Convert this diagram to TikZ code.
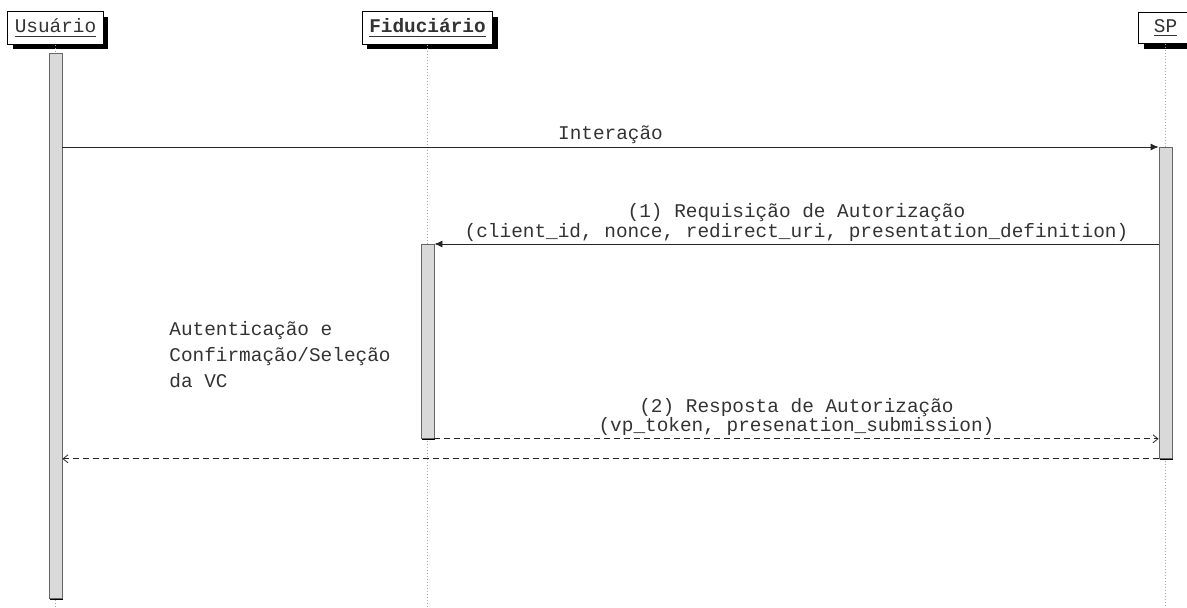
\documentclass[tikz,border=0pt]{standalone}
\usepackage{fontspec}
\setmainfont{Liberation Mono}
\usetikzlibrary{arrows.meta,shadows}

\begin{document}
\begin{tikzpicture}[x=0.5pt,y=-0.5pt,font=\fontsize{9.7}{9.6}\selectfont,text=black!80,
    actor/.style={draw,fill=white,inner sep=3.5pt,minimum height=15pt,
      drop shadow={shadow xshift=2.5pt,shadow yshift=-2.5pt,opacity=1,fill=black}},
    life/.style={draw=gray!70,densely dotted,line width=0.5pt},
    act/.style={draw=black!60,fill=gray!30,minimum width=6.5pt,inner sep=0pt,anchor=north,
      drop shadow={shadow xshift=0.6pt,shadow yshift=-0.6pt,opacity=1,fill=black}},
    call/.style={draw=black!85,-{Latex[length=4pt,width=3.5pt]}},
    ret/.style={draw=black!85,densely dashed,-{Straight Barb[length=2.5pt,width=4pt]}},
    lbl/.style={midway,above,inner sep=1.2pt,align=center}]
    \useasboundingbox (0,0) rectangle (1187,608);

    % participants
    \node[actor] (usr) at (55.5,28) {\underline{Usuário}};
    \node[actor] (fid) at (427.5,28) {\underline{\textbf{Fiduciário}}};
    \node[actor,minimum width=27pt] (sp) at (1165.5,28) {\underline{SP}};

    \draw[life] (usr.south) -- (usr.south |- 0,608);
    \draw[life] (fid.south) -- (fid.south |- 0,608);
    \draw[life] (sp.south) -- (sp.south |- 0,608);

    % activations
    \node[act,minimum height=272.5pt] (usrbar) at (55.5,53) {};
    \node[act,minimum height=155.5pt] (spbar) at (1165.5,147) {};
    \node[act,minimum height=97pt] (fidbar) at (427.5,244) {};

    % messages
    \draw[call] (usrbar.east |- spbar.north) -- (spbar.north west)
        node[lbl] {Interação};
    \draw[call] (spbar.west |- fidbar.north) -- (fidbar.north east)
        node[lbl] {(1) Requisição de Autorização\\(client\_id, nonce, redirect\_uri, presentation\_definition)};
    \draw[ret] (fidbar.south east) -- (spbar.west |- fidbar.south)
        node[lbl] {(2) Resposta de Autorização\\(vp\_token, presenation\_submission)};
    \draw[ret] (spbar.south west) -- (usrbar.east |- spbar.south);

    \node[align=left,anchor=north west,inner sep=0pt,font=\fontsize{9.7}{13}\selectfont] (note) at (169,321)
        {Autenticação e\\Confirmação/Seleção\\da VC};
\end{tikzpicture}
\end{document}
